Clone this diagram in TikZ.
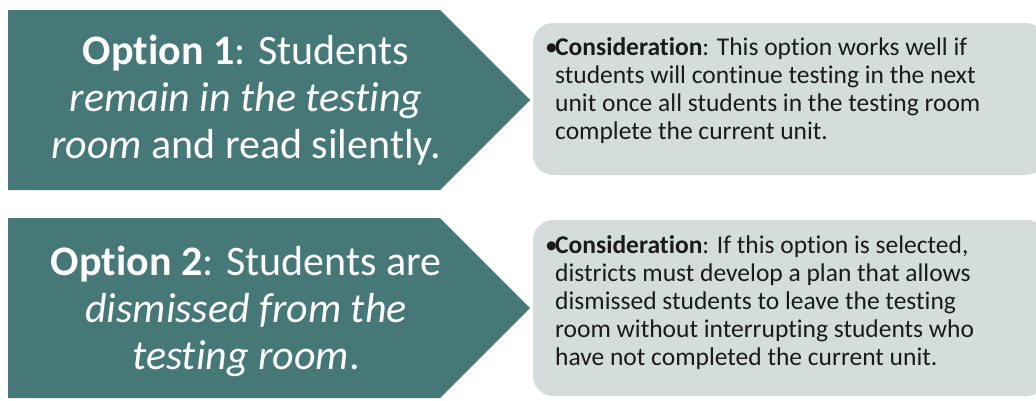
\documentclass[tikz,border=0pt]{standalone}
\usepackage{fontspec}
\setmainfont{Carlito}[Ligatures={NoCommon,NoContextual}]
\definecolor{optteal}{HTML}{477878}
\definecolor{notegray}{HTML}{D5DDDC}
\definecolor{notetext}{HTML}{1A1A1A}

\begin{document}
\begin{tikzpicture}[x=1pt,y=-1pt,
	optshape/.style={fill=optteal},
	optlabel/.style={text=white, align=center, inner sep=0pt, font=\fontsize{42}{47}\selectfont},
	notebox/.style={fill=notegray, rounded corners=20pt},
	notelabel/.style={text=notetext, align=left, anchor=west, inner sep=0pt, font=\fontsize{25.5}{28}\selectfont}]
		
		\clip (0,0) rectangle (1036,400);
		
		% option 1
		\fill[optshape] (8,10) -- (440,10) -- (530,100) -- (440,190) -- (8,190) -- cycle;
		\node(opt1) at (246,100)[optlabel]{\textbf{Option 1}: Students\\ \textit{remain in the testing}\\ \textit{room} and read silently.};
		\fill[notebox] (533,23) rectangle (1046,175);
		\node(note1) at (545,91)[notelabel]{\makebox[10pt][l]{•}\textbf{Consideration}: This option works well if\\
			\hspace*{10pt}students will continue testing in the next\\
			\hspace*{10pt}unit once all students in the testing room\\
			\hspace*{10pt}complete the current unit.};
		
		% option 2
		\fill[optshape] (8,218) -- (440,218) -- (530,308) -- (440,398) -- (8,398) -- cycle;
		\node(opt2) at (246,311)[optlabel]{\textbf{Option 2}: Students are\\ \textit{dismissed from the}\\ \textit{testing room}.};
		\fill[notebox] (533,220) rectangle (1046,396);
		\node(note2) at (545,303)[notelabel]{\makebox[10pt][l]{•}\textbf{Consideration}: If this option is selected,\\
			\hspace*{10pt}districts must develop a plan that allows\\
			\hspace*{10pt}dismissed students to leave the testing\\
			\hspace*{10pt}room without interrupting students who\\
			\hspace*{10pt}have not completed the current unit.};
		
	\end{tikzpicture}
\end{document}
